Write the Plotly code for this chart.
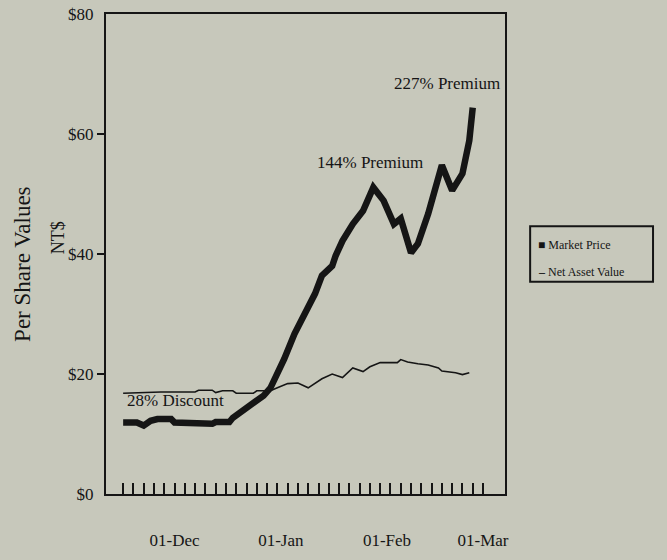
import plotly.graph_objects as go
import pandas as pd

# ---- data ----
market_dates = ["1989-11-16", "1989-11-20", "1989-11-22", "1989-11-24", "1989-11-26", "1989-11-30",
                "1989-12-01", "1989-12-06", "1989-12-07", "1989-12-12", "1989-12-13", "1989-12-17",
                "1989-12-18", "1989-12-21", "1989-12-24", "1989-12-27", "1989-12-29", "1989-12-31",
                "1990-01-02", "1990-01-05", "1990-01-08", "1990-01-11", "1990-01-13", "1990-01-16",
                "1990-01-17", "1990-01-19", "1990-01-22", "1990-01-25", "1990-01-28", "1990-01-31",
                "1990-02-03", "1990-02-05", "1990-02-08", "1990-02-10", "1990-02-13", "1990-02-17",
                "1990-02-20", "1990-02-23", "1990-02-25", "1990-02-26"]
market_price = [11.9, 11.9, 11.4, 12.2, 12.5, 12.5,
                11.9, 11.9, 11.7, 11.7, 12.0, 12.0,
                12.7, 13.9, 15.0, 16.4, 17.7, 20.0,
                22.5, 26.7, 30.0, 33.4, 36.4, 38.0,
                39.7, 42.2, 45.0, 47.2, 51.1, 48.9,
                45.0, 45.9, 40.2, 41.7, 46.7, 54.8,
                50.6, 53.4, 58.9, 64.4]

nav_dates = ["1989-11-16", "1989-11-27", "1989-12-07", "1989-12-08", "1989-12-12", "1989-12-13",
             "1989-12-15", "1989-12-18", "1989-12-19", "1989-12-24", "1989-12-25", "1989-12-29",
             "1989-12-31", "1990-01-03", "1990-01-06", "1990-01-09", "1990-01-13", "1990-01-16",
             "1990-01-19", "1990-01-22", "1990-01-25", "1990-01-27", "1990-01-30", "1990-02-04",
             "1990-02-05", "1990-02-07", "1990-02-10", "1990-02-13", "1990-02-16", "1990-02-17",
             "1990-02-21", "1990-02-23", "1990-02-25"]
nav_value = [16.8, 17.0, 17.0, 17.3, 17.3, 16.9,
             17.2, 17.2, 16.8, 16.8, 17.2, 17.2,
             17.7, 18.4, 18.5, 17.7, 19.2, 20.0,
             19.4, 21.0, 20.4, 21.2, 21.9, 21.9,
             22.4, 22.0, 21.7, 21.5, 21.0, 20.5,
             20.2, 19.9, 20.2]

x_label_vals = ["1989-12-01", "1990-01-01", "1990-02-01", "1990-03-01"]
x_label_text = ["01-Dec", "01-Jan", "01-Feb", "01-Mar"]
y_label_vals = [0, 20, 40, 60, 80]
y_label_text = ["$0", "$20", "$40", "$60", "$80"]
y_tick_marks = [20, 40, 60]
x_minor_ticks = pd.date_range("1989-11-16", "1990-03-01", freq="3D")

series_names = ["Market Price", "Net Asset Value"]
annotations_text = ["28% Discount", "144% Premium", "227% Premium"]

# ---- styling ----
BG = "#c7c8bb"
INK = "#151515"
FONT = "Liberation Serif"
X_RANGE = ["1989-11-11 00:00", "1990-03-07 10:00"]
Y_RANGE = [0, 80]

fig = go.Figure()

fig.add_trace(go.Scatter(x=market_dates, y=market_price, mode="lines", name=series_names[0],
                         line=dict(color=INK, width=6.5), showlegend=False))
fig.add_trace(go.Scatter(x=nav_dates, y=nav_value, mode="lines", name=series_names[1],
                         line=dict(color=INK, width=1.6), showlegend=False,
                         xaxis="x2", yaxis="y2"))

fig.update_layout(
    width=667, height=560,
    margin=dict(l=106, r=162, t=14, b=66),
    paper_bgcolor=BG, plot_bgcolor=BG,
    font=dict(family=FONT, color=INK, size=17),
    showlegend=False,
    xaxis=dict(type="date", range=X_RANGE, tickvals=x_label_vals, ticktext=x_label_text,
               ticks="", showgrid=False, zeroline=False, showline=True, mirror=True,
               linecolor=INK, linewidth=2, ticklabelstandoff=30, automargin=False,
               tickfont=dict(family=FONT, size=17, color=INK)),
    xaxis2=dict(type="date", range=X_RANGE, overlaying="x", anchor="y", side="bottom",
                tickvals=list(x_minor_ticks), ticks="inside", ticklen=11,
                tickwidth=1.6, tickcolor=INK, showticklabels=False, showgrid=False,
                zeroline=False, showline=False, automargin=False),
    yaxis=dict(range=Y_RANGE, tickvals=y_label_vals, ticktext=y_label_text, ticks="",
               showgrid=False, zeroline=False, showline=True, mirror=True,
               linecolor=INK, linewidth=2, ticklabelstandoff=7, automargin=False,
               tickfont=dict(family=FONT, size=17, color=INK)),
    yaxis2=dict(range=Y_RANGE, overlaying="y", anchor="x", side="left", tickvals=y_tick_marks,
                ticks="outside", ticklen=8, tickwidth=1.6, tickcolor=INK,
                showticklabels=False, showgrid=False, zeroline=False, showline=False,
                automargin=False),
)

ann_pos = [(0.173, 0.194), (0.662, 0.690), (0.855, 0.856)]
for txt, (ax, ay) in zip(annotations_text, ann_pos):
    fig.add_annotation(text=txt, xref="paper", yref="paper", x=ax, y=ay,
                       xanchor="center", yanchor="middle",
                       showarrow=False, font=dict(family=FONT, size=17, color=INK))

fig.add_annotation(text="Per Share Values", xref="paper", yref="paper",
                   x=-0.211, y=0.479, textangle=-90, showarrow=False,
                   xanchor="center", yanchor="middle",
                   font=dict(family=FONT, size=23, color=INK))
fig.add_annotation(text="NT$", xref="paper", yref="paper",
                   x=-0.120, y=0.533, textangle=-90, showarrow=False,
                   xanchor="center", yanchor="middle",
                   font=dict(family=FONT, size=18, color=INK))

# legend drawn as a framed box with text entries
fig.add_shape(type="rect", xref="paper", yref="paper", x0=1.063, x1=1.371, y0=0.442, y1=0.558,
              line=dict(color=INK, width=2), fillcolor=BG, layer="above")
legend_rows = [("■", 0.519), ("<b>–</b>", 0.4625)]
for (glyph, ly), name in zip(legend_rows, series_names):
    fig.add_annotation(text=f"{glyph} {name}", xref="paper", yref="paper", x=1.078, y=ly,
                       xanchor="left", yanchor="middle", showarrow=False,
                       font=dict(family=FONT, size=12, color=INK))

fig.write_html("out.html",
               config={"displayModeBar": False},
               post_script="document.body.style.margin='0';"
                           "document.body.style.background='#c7c8bb';")
